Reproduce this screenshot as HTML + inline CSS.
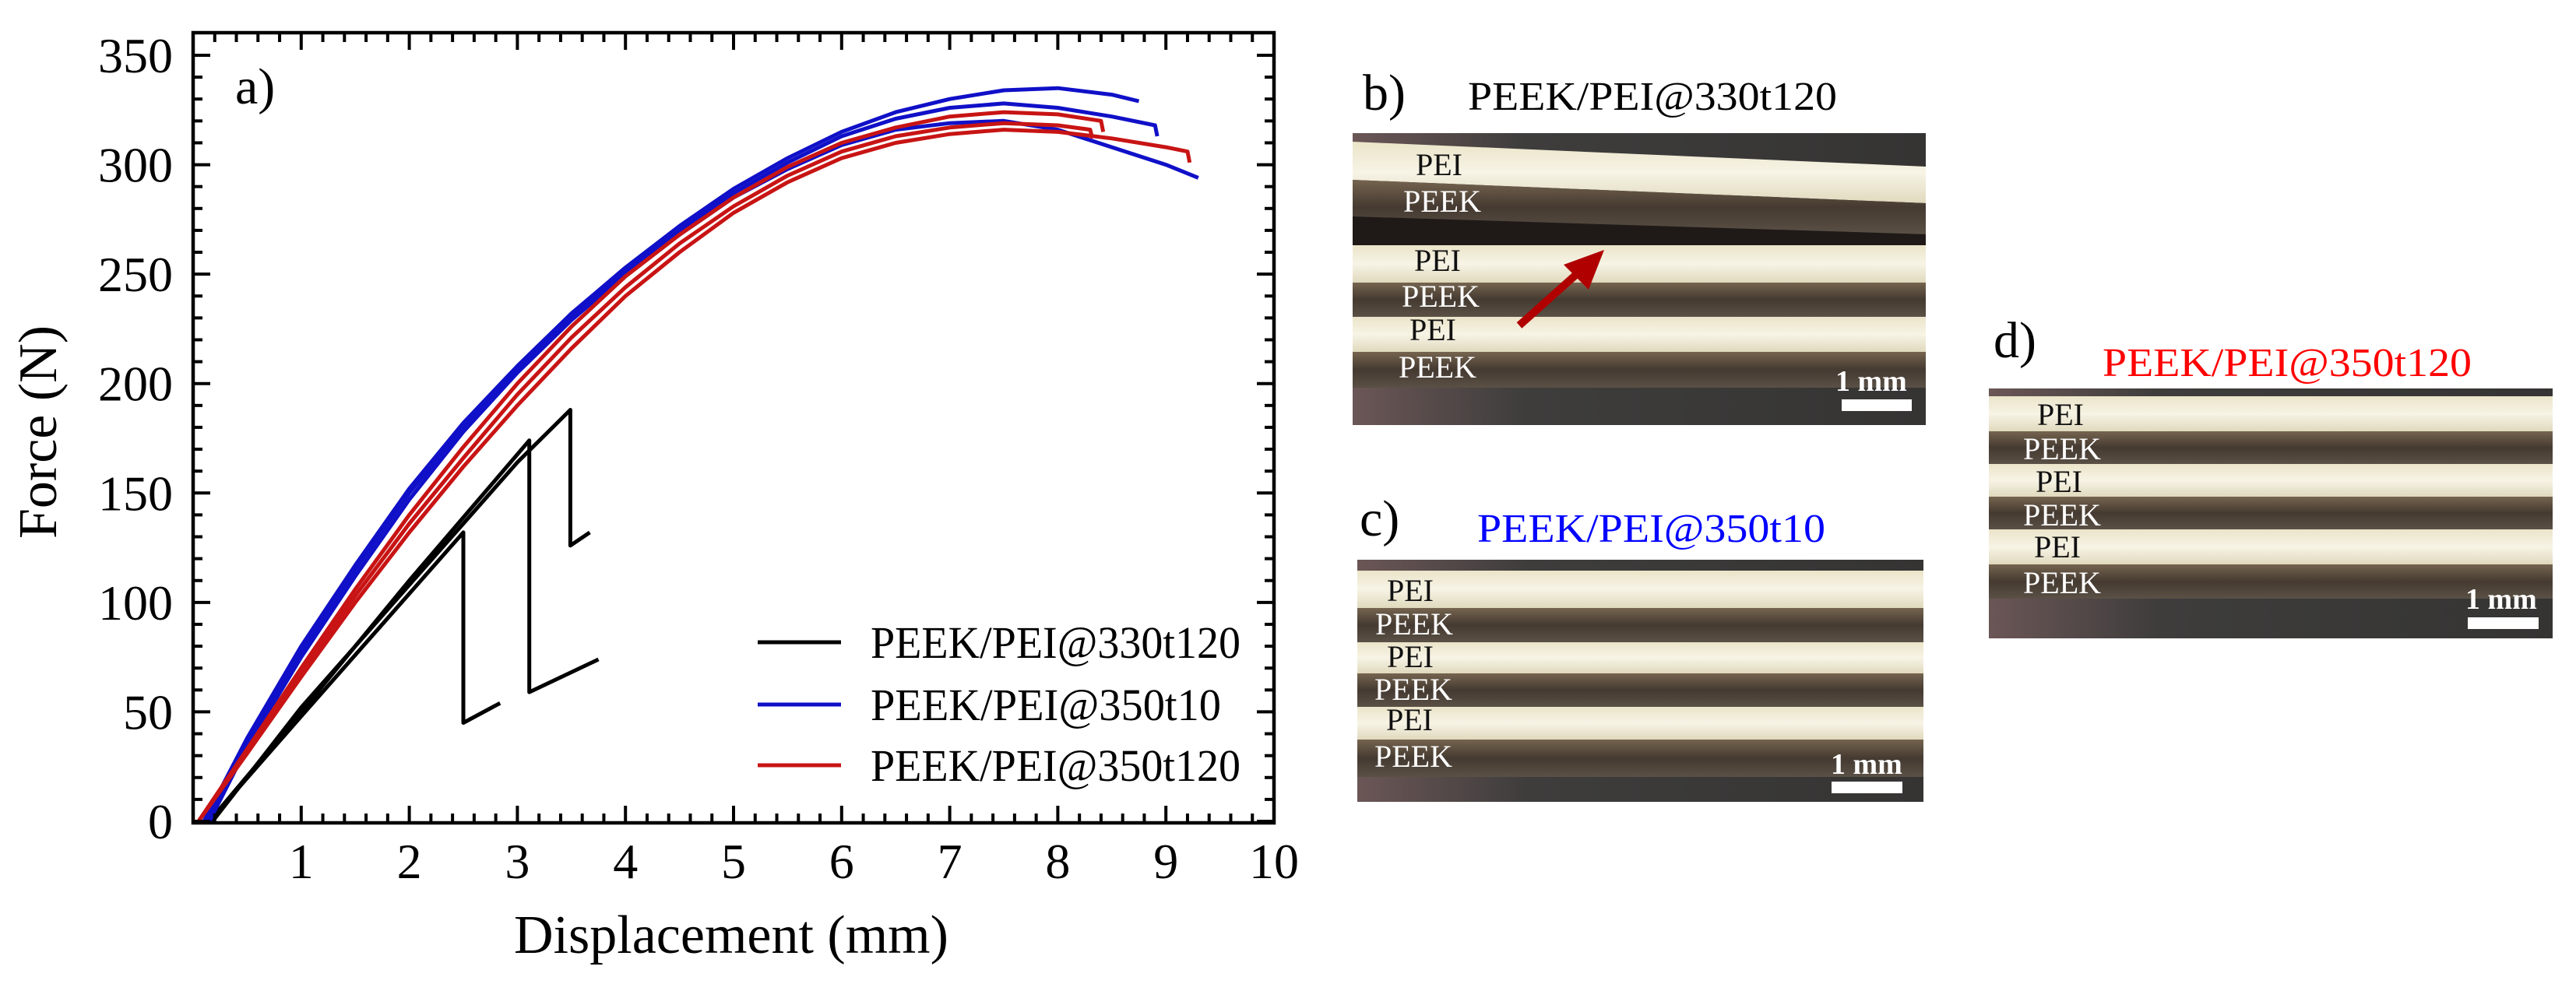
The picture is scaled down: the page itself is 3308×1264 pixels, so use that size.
<!DOCTYPE html>
<html><head><meta charset="utf-8"><style>
html,body{margin:0;padding:0;background:#fff;}
svg{display:block;font-family:"Liberation Serif","DejaVu Serif",serif;}
svg text{font-family:"Liberation Serif","DejaVu Serif",serif;}
</style></head><body>
<svg id="fig" width="3308" height="1264" viewBox="0 0 3308 1264" xmlns="http://www.w3.org/2000/svg" font-family="Liberation Serif, DejaVu Serif, serif">
<defs>
<linearGradient id="peiG" x1="0" y1="0" x2="0" y2="1"><stop offset="0" stop-color="#ebe4c9"/><stop offset="0.5" stop-color="#f7f4e6"/><stop offset="1" stop-color="#e0d9bd"/></linearGradient>
<linearGradient id="peekG" x1="0" y1="0" x2="0" y2="1"><stop offset="0" stop-color="#75644f"/><stop offset="0.5" stop-color="#453a31"/><stop offset="1" stop-color="#5a5045"/></linearGradient>
<linearGradient id="bgG" x1="0" y1="0" x2="1" y2="0"><stop offset="0" stop-color="#6b5656"/><stop offset="0.3" stop-color="#3e3d3c"/><stop offset="1" stop-color="#353433"/></linearGradient>
</defs>
<g id="chart"></g>

<!-- Panel b -->
<g>
<text x="1750" y="141" font-size="66">b)</text>
<text x="1885" y="141" font-size="52" textLength="474" lengthAdjust="spacingAndGlyphs">PEEK/PEI@330t120</text>
<rect x="1737" y="171" width="736" height="375" fill="url(#bgG)"/>
<polygon points="1737,182 2473,214 2473,261 1737,231" fill="url(#peiG)"/>
<polygon points="1737,231 2473,261 2473,301 1737,278" fill="url(#peekG)"/>
<polygon points="1737,278 2473,301 2473,320 1737,315" fill="#1f1a18"/>
<rect x="1737" y="315" width="736" height="48" fill="url(#peiG)"/>
<rect x="1737" y="363" width="736" height="44" fill="url(#peekG)"/>
<rect x="1737" y="407" width="736" height="45" fill="url(#peiG)"/>
<rect x="1737" y="452" width="736" height="46" fill="url(#peekG)"/>
<g font-size="40">
<text x="1818" y="225" fill="#111">PEI</text><text x="1802" y="272" fill="#fff">PEEK</text>
<text x="1816" y="348" fill="#111">PEI</text><text x="1800" y="394" fill="#fff">PEEK</text>
<text x="1810" y="437" fill="#111">PEI</text><text x="1796" y="485" fill="#fff">PEEK</text>
</g>
<line x1="1951" y1="418" x2="2045" y2="334" stroke="#b00000" stroke-width="10"/>
<polygon points="2060,321 2008,340 2040,372" fill="#b00000"/>
<text x="2357" y="502" font-size="38" font-weight="bold" fill="#fff">1 mm</text>
<rect x="2365" y="513" width="90" height="15" fill="#fff"/>
</g>

<!-- Panel c -->
<g>
<text x="1746" y="688" font-size="66">c)</text>
<text x="1897" y="696" font-size="52" fill="#0000ff" textLength="447" lengthAdjust="spacingAndGlyphs">PEEK/PEI@350t10</text>
<rect x="1743" y="719" width="727" height="311" fill="url(#bgG)"/>
<rect x="1743" y="733" width="727" height="48" fill="url(#peiG)"/>
<rect x="1743" y="781" width="727" height="44" fill="url(#peekG)"/>
<rect x="1743" y="825" width="727" height="40" fill="url(#peiG)"/>
<rect x="1743" y="865" width="727" height="43" fill="url(#peekG)"/>
<rect x="1743" y="908" width="727" height="42" fill="url(#peiG)"/>
<rect x="1743" y="950" width="727" height="48" fill="url(#peekG)"/>
<g font-size="40">
<text x="1781" y="772" fill="#111">PEI</text><text x="1766" y="815" fill="#fff">PEEK</text>
<text x="1781" y="857" fill="#111">PEI</text><text x="1765" y="899" fill="#fff">PEEK</text>
<text x="1780" y="938" fill="#111">PEI</text><text x="1765" y="985" fill="#fff">PEEK</text>
</g>
<text x="2351" y="994" font-size="38" font-weight="bold" fill="#fff">1 mm</text>
<rect x="2352" y="1004" width="91" height="15" fill="#fff"/>
</g>

<!-- Panel d -->
<g>
<text x="2560" y="459" font-size="66">d)</text>
<text x="2700" y="483" font-size="52" fill="#ff0000" textLength="474" lengthAdjust="spacingAndGlyphs">PEEK/PEI@350t120</text>
<rect x="2554" y="499" width="724" height="321" fill="url(#bgG)"/>
<rect x="2554" y="509" width="724" height="45" fill="url(#peiG)"/>
<rect x="2554" y="554" width="724" height="42" fill="url(#peekG)"/>
<rect x="2554" y="596" width="724" height="42" fill="url(#peiG)"/>
<rect x="2554" y="638" width="724" height="42" fill="url(#peekG)"/>
<rect x="2554" y="680" width="724" height="45" fill="url(#peiG)"/>
<rect x="2554" y="725" width="724" height="44" fill="url(#peekG)"/>
<g font-size="40">
<text x="2616" y="546" fill="#111">PEI</text><text x="2598" y="590" fill="#fff">PEEK</text>
<text x="2614" y="632" fill="#111">PEI</text><text x="2598" y="675" fill="#fff">PEEK</text>
<text x="2612" y="716" fill="#111">PEI</text><text x="2598" y="762" fill="#fff">PEEK</text>
</g>
<text x="3166" y="782" font-size="38" font-weight="bold" fill="#fff">1 mm</text>
<rect x="3169" y="793" width="91" height="15" fill="#fff"/>
</g>
</svg>
<script>
const xTicks = [1,2,3,4,5,6,7,8,9,10];
const yTicks = [0,50,100,150,200,250,300,350];
const legendLabels = ["PEEK/PEI@330t120","PEEK/PEI@350t10","PEEK/PEI@350t120"];
const seriesColors = ["#000000","#1010c8","#c81414"];
const black1 = [[0.15,0],[1,48],[2,104],[2.5,132],[2.5,45],[2.84,54]];
const black2 = [[0.15,0],[1,50],[2,110],[3.11,174],[3.11,59],[3.75,74]];
const black3 = [[0.18,0],[1,52],[2,108],[3,164],[3.49,188],[3.49,126],[3.67,132]];
const blue1 = [[0.1,0],[0.5,38],[1,80],[1.5,117],[2,152],[2.5,182],[3,208],[3.5,232],[4,253],[4.5,272],[5,289],[5.5,303],[6,315],[6.5,324],[7,330],[7.5,334],[8,335],[8.5,332],[8.75,329]];
const blue2 = [[0.12,0],[0.5,36],[1,78],[1.5,115],[2,150],[2.5,180],[3,206],[3.5,230],[4,251],[4.5,270],[5,287],[5.5,301],[6,313],[6.5,321],[7,326],[7.5,328],[8,326],[8.5,322],[8.9,318],[8.92,313]];
const blue3 = [[0.15,0],[0.5,34],[1,75],[1.5,112],[2,147],[2.5,178],[3,205],[3.5,229],[4,250],[4.5,268],[5,285],[5.5,298],[6,309],[6.5,316],[7,319],[7.5,320],[8,316],[8.5,308],[9,300],[9.3,294]];
const red1 = [[0.05,0],[0.5,33],[1,70],[1.5,106],[2,140],[2.5,171],[3,200],[3.5,226],[4,249],[4.5,268],[5,285],[5.5,299],[6,310],[6.5,317],[7,322],[7.5,324],[8,323],[8.4,320],[8.42,315]];
const red2 = [[0.05,0],[0.5,32],[1,68],[1.5,103],[2,136],[2.5,166],[3,195],[3.5,221],[4,244],[4.5,264],[5,281],[5.5,295],[6,306],[6.5,313],[7,317],[7.5,319],[8,318],[8.3,316],[8.32,312]];
const red3 = [[0.05,0],[0.5,31],[1,66],[1.5,100],[2,132],[2.5,162],[3,190],[3.5,216],[4,240],[4.5,260],[5,278],[5.5,292],[6,303],[6.5,310],[7,314],[7.5,316],[8,315],[8.5,312],[9,308],[9.2,306],[9.22,301]];

const NS = "http://www.w3.org/2000/svg";
const g = document.getElementById('chart');
const L = 248, R = 1636, T = 42, B = 1057;
const Y0px = 1055, Y350px = 71;
function sx(v){ return L + v * (R - L) / 10; }
function sy(v){ return Y0px - v * (Y0px - Y350px) / 350; }
function mk(tag, attrs){ const e = document.createElementNS(NS, tag); for (const k in attrs) e.setAttribute(k, attrs[k]); g.appendChild(e); return e; }

const groups = [[black1,black2,black3,0],[blue1,blue2,blue3,1],[red1,red2,red3,2]];
groups.forEach(grp => {
  const c = seriesColors[grp[3]];
  grp.slice(0,3).forEach((s, i) => {
    const p = mk('polyline', {points: s.map(d => sx(d[0]).toFixed(1) + ',' + sy(d[1]).toFixed(1)).join(' '), fill: 'none', stroke: c, 'stroke-width': 5, 'stroke-linejoin': 'round'});
    
    
  });
});

const fr = mk('rect', {x: L, y: T, width: R - L, height: B - T, fill: 'none', stroke: '#000', 'stroke-width': 4.5});



for (let v = 0; v <= 10.001; v += 0.2) {
  const major = Math.abs(v - Math.round(v)) < 1e-6;
  const len = major ? 22 : 12;
  const x = sx(v);
  mk('line', {x1: x, y1: B, x2: x, y2: B - len, stroke: '#000', 'stroke-width': 4});
  mk('line', {x1: x, y1: T, x2: x, y2: T + len, stroke: '#000', 'stroke-width': 4});
}
for (let v = 0; v <= 350; v += 10) {
  const major = v % 50 === 0;
  const len = major ? 22 : 12;
  const y = sy(v);
  mk('line', {x1: L, y1: y, x2: L + len, y2: y, stroke: '#000', 'stroke-width': 4});
  mk('line', {x1: R, y1: y, x2: R - len, y2: y, stroke: '#000', 'stroke-width': 4});
}
xTicks.forEach(v => {
  const t = mk('text', {x: sx(v), y: 1128, 'font-size': 64, 'text-anchor': 'middle'});
  t.textContent = v;
  
  
});
yTicks.forEach(v => {
  const t = mk('text', {x: 222, y: sy(v) + 22, 'font-size': 64, 'text-anchor': 'end'});
  t.textContent = v;
  
  
});
const xt = mk('text', {x: 939, y: 1224, 'font-size': 70, 'text-anchor': 'middle'});
xt.textContent = 'Displacement (mm)';


const yt = mk('text', {x: 0, y: 0, 'font-size': 70, 'text-anchor': 'middle', transform: 'translate(72,555) rotate(-90)'});
yt.textContent = 'Force (N)';


const pa = mk('text', {x: 302, y: 133, 'font-size': 66});
pa.textContent = 'a)';



const legY = [825, 905, 983];
const legW = [475, 450, 475];
legendLabels.forEach((lab, i) => {
  const ln = mk('line', {x1: 973, y1: legY[i], x2: 1080, y2: legY[i], stroke: seriesColors[i], 'stroke-width': 5});
  
  
  const t = mk('text', {x: 1118, y: legY[i] + 20, 'font-size': 58, textLength: legW[i], lengthAdjust: 'spacingAndGlyphs'});
  t.textContent = lab;
  
  
});
</script>
</body></html>
